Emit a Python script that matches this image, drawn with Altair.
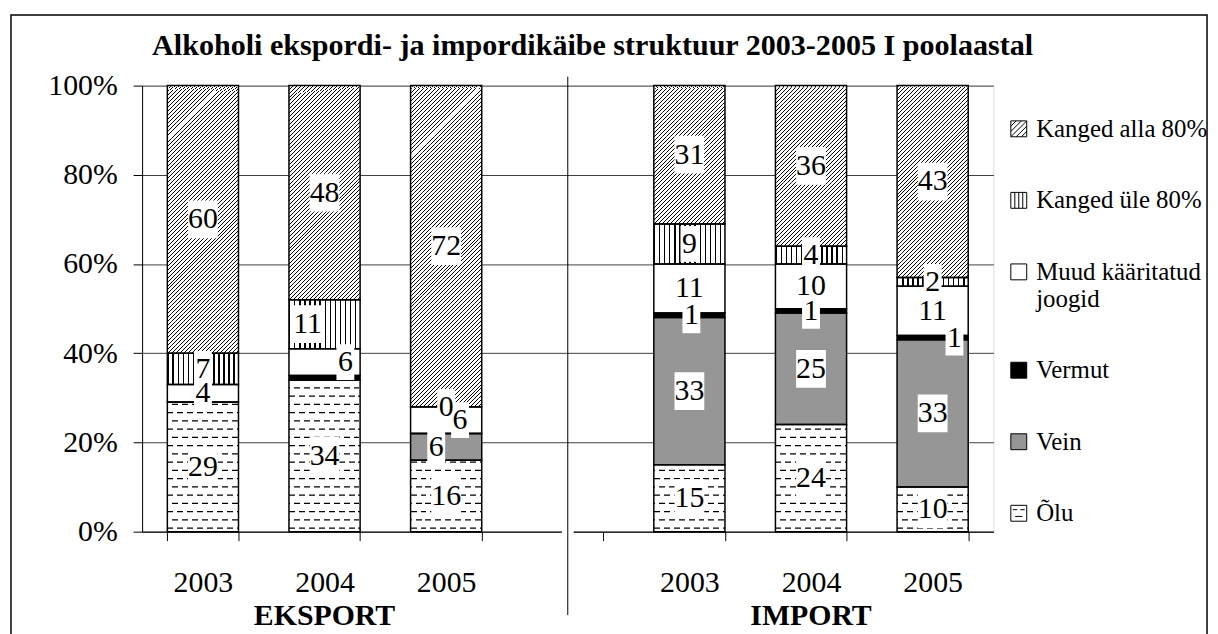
import altair as alt
import pandas as pd

FONT = "Liberation Serif"

# ---------------- data ----------------
groups = ["EKSPORT", "IMPORT"]
years = ["2003", "2004", "2005"]
series_legend = ["Kanged alla 80%", "Kanged üle 80%", "Muud kääritatud joogid",
                 "Vermut", "Vein", "Õlu"]
stack_order = list(reversed(series_legend))

# shares (%) for: EKSPORT 2003, 2004, 2005, IMPORT 2003, 2004, 2005
olu = [29, 34, 16, 15, 24, 10]
vein = [0, 0, 6, 33, 25, 33]
vermut = [0, 1, 0, 1, 1, 1]
muud = [4, 6, 6, 11, 10, 11]
kanged_yle = [7, 11, 0, 9, 4, 2]
kanged_alla = [60, 48, 72, 31, 36, 43]

values = {"Õlu": olu, "Vein": vein, "Vermut": vermut,
          "Muud kääritatud joogid": muud, "Kanged üle 80%": kanged_yle,
          "Kanged alla 80%": kanged_alla}

bar_slots = [g[0] + y for g in groups for y in years]
slot_domain = bar_slots[:3] + ["gap"] + bar_slots[3:]

label_zero_shown = {("E2005", "Kanged üle 80%")}
label_hidden = {("E2004", "Vermut")}
# small label nudges (px) where the original moved overlapping labels
label_nudge = {("E2004", "Kanged üle 80%"): (-17, 0),
               ("E2004", "Muud kääritatud joogid"): (21, 0),
               ("E2005", "Kanged üle 80%"): (0, 6),
               ("E2005", "Muud kääritatud joogid"): (14, 3),
               ("E2005", "Vein"): (-10, 2),
               ("I2003", "Vermut"): (2, 3),
               ("I2004", "Vermut"): (0, 6),
               ("I2005", "Vermut"): (22, 4)}

# ---------------- layout ----------------
W, H = 857, 449
PI, PO = 0.415, 0.2075
BAND = W / (len(slot_domain) - PI + 2 * PO) * (1 - PI)
HALF = BAND / 2
HATCH_PERIOD = 4.0                       # px, diagonal hatch spacing
HATCH_N = 32                             # stripes along the gradient vector
SLICE = 2 * HATCH_PERIOD                 # px, height of one hatch slice
SLICE_PCT = SLICE / H * 100              # same in axis units
ROW_STEP = 1.85                          # dashed rows spacing (axis units)

rows = []
for i, slot in enumerate(bar_slots):
    base = 0
    for k, s in enumerate(stack_order):
        v = values[s][i]
        lab = str(v) if v > 0 else ""
        if (slot, s) in label_zero_shown:
            lab = str(v)
        if (slot, s) in label_hidden:
            lab = ""
        dx, dy = label_nudge.get((slot, s), (0, 0))
        rows.append(dict(slot=slot, series=s, order=k, value=v, y0=base,
                         y1=base + v, mid=base + v / 2, label=lab,
                         nchar=len(lab), dx=dx + HALF, dy=dy))
        base += v
df = pd.DataFrame(rows)


def stripes(n, duty, x2, y2, dark="black", light="white"):
    stops = []
    for i in range(n):
        a = round(i / n, 6)
        b = round((i + duty) / n, 6)
        c = round((i + 1) / n, 6)
        stops += [{"offset": a, "color": dark}, {"offset": b, "color": dark},
                  {"offset": b, "color": light}, {"offset": c, "color": light}]
    return {"gradient": "linear", "x1": 0, "y1": 0, "x2": x2, "y2": y2,
            "stops": stops}


def dashes(phase, bar_w=BAND, dash=6.0, gap=4.0):
    stops = []
    p = -phase
    while p < bar_w:
        a, b, c = p, p + dash, p + dash + gap
        for lo, hi, col in ((a, b, "black"), (b, c, "white")):
            lo2, hi2 = max(lo, 0), min(hi, bar_w)
            if hi2 > lo2:
                stops += [{"offset": round(lo2 / bar_w, 5), "color": col},
                          {"offset": round(hi2 / bar_w, 5), "color": col}]
        p = c
    return {"gradient": "linear", "x1": 0, "y1": 0, "x2": 1, "y2": 0,
            "stops": stops}


# 45 degree hatch inside one slice of size BAND x SLICE:
# t = (x + y) / L with L = HATCH_N * HATCH_PERIOD pixels
_L = HATCH_N * HATCH_PERIOD
_k = _L / (BAND ** 2 + SLICE ** 2)
alla_fill = stripes(HATCH_N, 0.25, round(BAND * _k, 6), round(SLICE * _k, 6))
yle_fill = stripes(14, 0.28, 1, 0)
dash_a = dashes(0)
dash_b = dashes(5)

SQ = "M-1,-1H1V1H-1Z"
shape_range = [
    SQ + " M-1,-0.33L-0.33,-1 M-1,0.33L0.33,-1 M-1,1L1,-1 M-0.33,1L1,-0.33 M0.33,1L1,0.33",
    SQ + " M-0.5,-1V1 M0,-1V1 M0.5,-1V1",
    SQ,
    SQ,
    SQ,
    SQ + " M-0.75,-0.45H-0.2 M0.2,-0.45H0.75 M-0.45,0.4H0.45",
]
fill_range = ["white", "white", "white", "black", "#969696", "white"]
stroke_range = ["black"] * len(series_legend)

BOX2 = "M-15,-19H15V19H-15Z"
BOX1 = "M-9,-18H9V18H-9Z"

legend = alt.Legend(
    title=None, orient="none", legendX=870, legendY=31, padding=0,
    labelFont=FONT, labelFontSize=25, labelColor="black", labelLimit=400,
    labelOffset=5, rowPadding=46, symbolSize=256, symbolStrokeWidth=1,
    symbolOpacity=1,
    labelExpr="datum.label == 'Muud kääritatud joogid' ? ['Muud kääritatud', 'joogid'] : datum.label",
)

xscale = alt.Scale(domain=slot_domain, paddingInner=PI, paddingOuter=PO)
xaxis = alt.Axis(title=None, labelAngle=0,
                 labelExpr="isString(datum.value) && datum.value != 'gap' ? substring(datum.value, 1) : ''",
                 labelFont=FONT, labelFontSize=30, labelColor="black",
                 labelPadding=27, tickBand="extent", tickSize=9,
                 tickColor="black", domainColor="black", grid=False)
x_enc = alt.X("slot:N", scale=xscale, axis=xaxis)

yscale = alt.Scale(domain=[0, 100], nice=False)
yaxis = alt.Axis(title=None, values=[0, 20, 40, 60, 80, 100],
                 labelExpr="datum.value + '%'", labelFont=FONT,
                 labelFontSize=30, labelColor="black", labelPadding=16,
                 tickSize=9, tickColor="black", domainColor="black",
                 grid=True, gridColor="#404040", gridWidth=1)
y0 = alt.Y("y0:Q", scale=yscale, axis=yaxis, stack=None)
ymid = alt.Y("mid:Q", scale=yscale, axis=yaxis)

fill_enc = alt.Fill("series:N", scale=alt.Scale(domain=series_legend, range=fill_range),
                    legend=legend)
stroke_enc = alt.Stroke("series:N", scale=alt.Scale(domain=series_legend, range=stroke_range),
                        legend=legend)
shape_enc = alt.Shape("series:N", scale=alt.Scale(domain=series_legend, range=shape_range),
                      legend=legend)

base = alt.Chart(df)

# legend carrier: drawn first, hidden under the opaque bars of one column
proxy = base.transform_filter(alt.datum.slot == "E2005").mark_point(
    filled=True, opacity=1, strokeWidth=1, size=100).encode(
    x=x_enc, y=ymid, fill=fill_enc, stroke=stroke_enc, shape=shape_enc)

bars = base.mark_bar().encode(x=x_enc, y=y0, y2="y1:Q", fill=fill_enc)

alla_slices = (base.transform_filter(alt.datum.series == "Kanged alla 80%")
               .transform_calculate(sl=f"sequence(datum.y0, datum.y1, {SLICE_PCT})")
               .transform_flatten(["sl"])
               .transform_calculate(sl_top=f"min(datum.sl + {SLICE_PCT}, datum.y1)"))
alla = alla_slices.mark_bar(fill=alla_fill, strokeWidth=0).encode(
    x=x_enc, y=alt.Y("sl:Q", scale=yscale, axis=yaxis, stack=None), y2="sl_top:Q")

yle = base.transform_filter(
    (alt.datum.series == "Kanged üle 80%") & (alt.datum.value > 0)).mark_bar(
    fill=yle_fill, strokeWidth=0).encode(x=x_enc, y=y0, y2="y1:Q")

olu_rows = (base.transform_filter(alt.datum.series == "Õlu")
            .transform_calculate(row=f"sequence(0.67, datum.y1 - 0.4, {ROW_STEP})")
            .transform_flatten(["row"])
            .transform_calculate(phase=f"round((datum.row - 0.67) / {ROW_STEP}) % 2",
                                 row_top="datum.row + 0.25"))
y_row = alt.Y("row:Q", scale=yscale, axis=yaxis, stack=None)
dashA = olu_rows.transform_filter(alt.datum.phase == 0).mark_bar(
    fill=dash_a, strokeWidth=0).encode(x=x_enc, y=y_row, y2="row_top:Q")
dashB = olu_rows.transform_filter(alt.datum.phase == 1).mark_bar(
    fill=dash_b, strokeWidth=0).encode(x=x_enc, y=y_row, y2="row_top:Q")

outlines = base.mark_bar(fillOpacity=0, stroke="black", strokeWidth=1.5).encode(
    x=x_enc, y=y0, y2="y1:Q")

labs = base.transform_filter("datum.label != ''")
offs = dict(xOffset=alt.XOffset("dx:Q", scale=None),
            yOffset=alt.YOffset("dy:Q", scale=None))
box2 = labs.transform_filter("datum.nchar == 2").mark_point(
    filled=True, fill="white", opacity=1, size=4, shape=BOX2, strokeWidth=0
).encode(x=x_enc, y=ymid, **offs)
box1 = labs.transform_filter("datum.nchar == 1").mark_point(
    filled=True, fill="white", opacity=1, size=4, shape=BOX1, strokeWidth=0
).encode(x=x_enc, y=ymid, **offs)
texts = labs.mark_text(font=FONT, fontSize=30, color="black", baseline="middle",
                       align="center").encode(x=x_enc, y=ymid, text="label:N", **offs)

grp_df = pd.DataFrame({"slot": [g[0] + years[1] for g in groups], "name": groups})
grp = alt.Chart(grp_df).mark_text(font=FONT, fontSize=30, fontWeight="bold",
                                  color="black", baseline="middle").encode(
    x=x_enc, y=alt.value(H + 85), text="name:N")

sep_df = pd.DataFrame({"slot": ["gap"]})
gap_rule = alt.Chart(sep_df).mark_rule(color="white", strokeWidth=12).encode(
    x=x_enc, y=alt.value(H - 4), y2=alt.value(H + 4))
sep_rule = alt.Chart(sep_df).mark_rule(color="black", strokeWidth=1).encode(
    x=x_enc, y=alt.value(-9), y2=alt.value(H + 84))

frame = alt.Chart(sep_df).mark_rect(fillOpacity=0, stroke="black", strokeWidth=1.5).encode(
    x=alt.value(-132), x2=alt.value(1072), y=alt.value(-71), y2=alt.value(H + 140))

title = alt.TitleParams(
    "Alkoholi ekspordi- ja impordikäibe struktuur 2003-2005 I poolaastal",
    font=FONT, fontSize=30.3, fontWeight="bold", color="black", anchor="middle",
    frame="group", dx=25, dy=34, offset=-37, baseline="alphabetic")

chart = alt.layer(
    proxy, bars, alla, yle, dashA, dashB, outlines, box1, box2, texts, grp,
    gap_rule, sep_rule, frame
).properties(
    width=W, height=H, title=title,
    padding={"left": 135, "top": 76, "right": 218, "bottom": 115},
    autosize=alt.AutoSizeParams(type="none"),
).configure_view(stroke="black", strokeWidth=1).configure(background="white")

chart.save("out.html", embed_options={"renderer": "svg", "actions": False})
